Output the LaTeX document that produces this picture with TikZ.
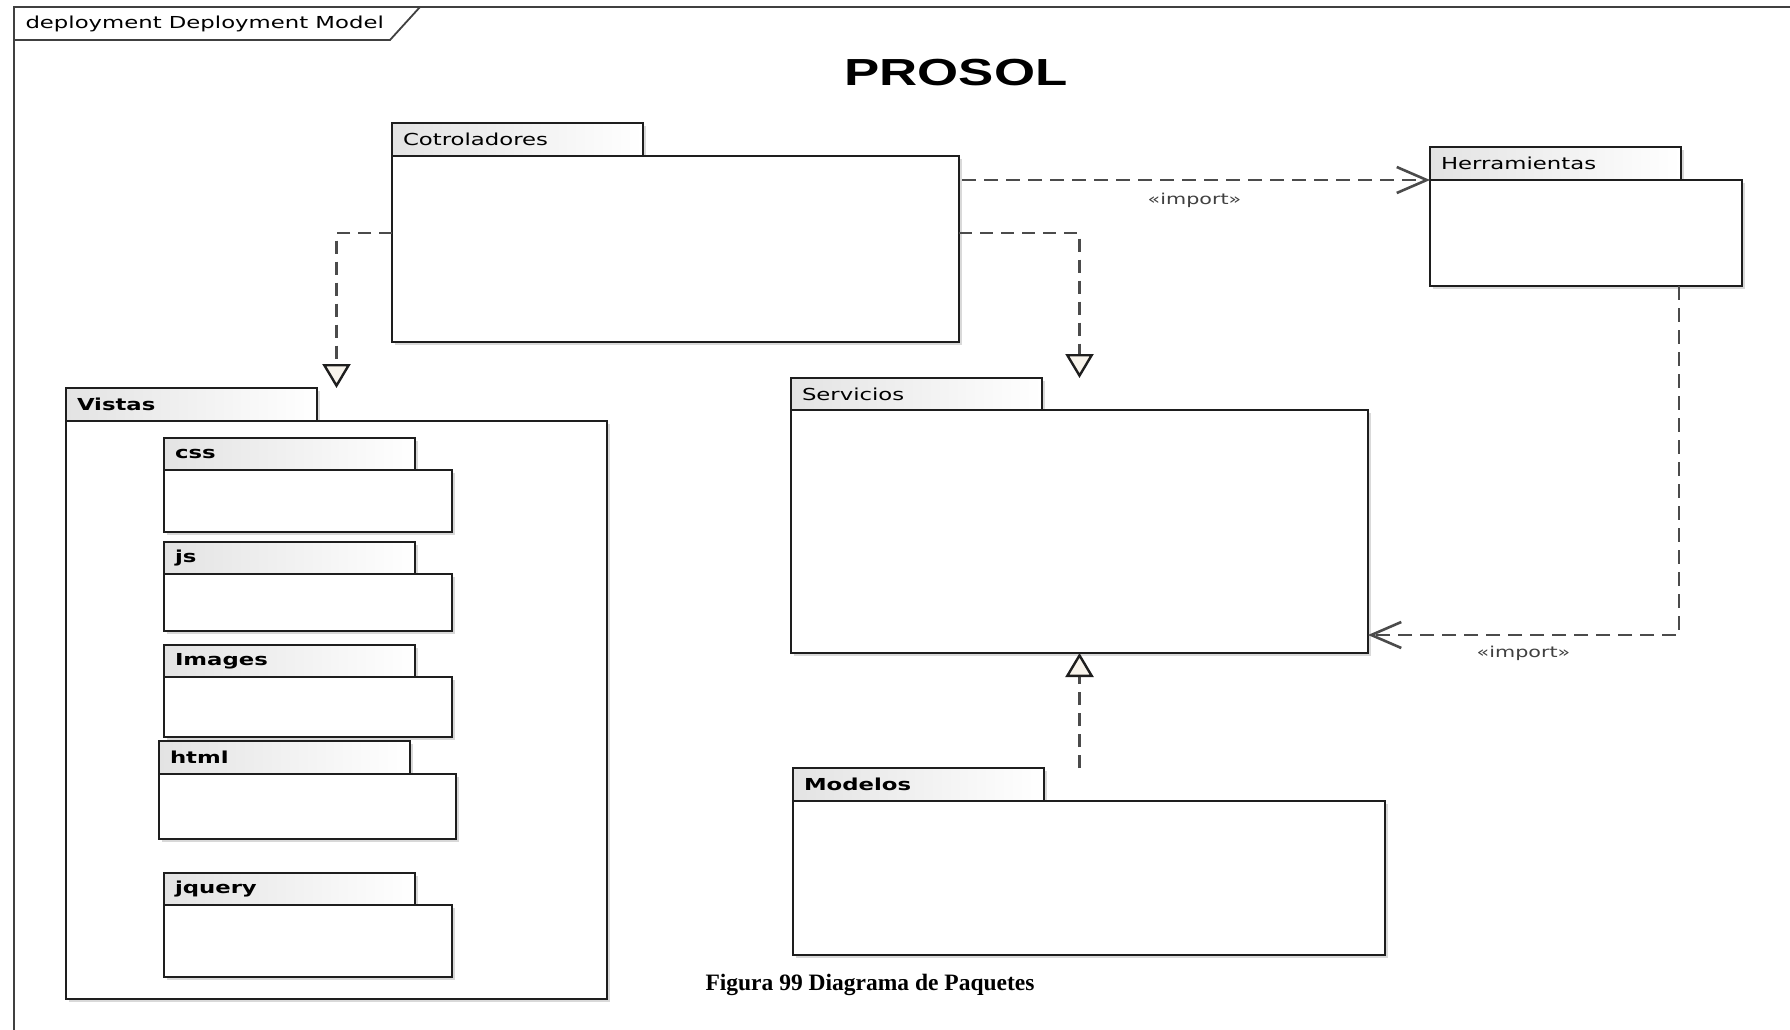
\documentclass[tikz,border=0pt]{standalone}
\usepackage{fontspec}
\setmainfont{Liberation Serif}
\newfontfamily\umlfont[FakeStretch=1.38]{DejaVu Sans}
\newfontfamily\bannerfont[FakeStretch=1.40]{Liberation Sans}
\usetikzlibrary{arrows.meta, positioning, shadows}
\definecolor{tipfill}{RGB}{248,244,236}
\definecolor{pkgline}{RGB}{30,30,30}
\definecolor{depline}{RGB}{75,75,75}
\tikzstyle{pkgtab} = [rectangle, draw=pkgline, line width=2.2pt, left color=black!11, right color=white, anchor=north west, outer sep=0pt, minimum width=251pt, minimum height=32pt, inner xsep=11pt, inner ysep=0pt, text width=229pt, align=left, font=\umlfont\fontsize{16.5}{19}\selectfont, drop shadow={shadow xshift=3pt, shadow yshift=-3pt, opacity=0.3}]
\tikzstyle{pkgbody} = [rectangle, draw=pkgline, line width=2.2pt, fill=white, outer sep=0pt, inner sep=0pt, drop shadow={shadow xshift=3pt, shadow yshift=-3pt, opacity=0.3}]
\tikzstyle{realize} = [depline, line width=2.4pt, dash pattern=on 13pt off 8pt, -{Triangle[length=24pt, width=28pt, fill=tipfill, color=pkgline]}]
\tikzstyle{importdep} = [depline, line width=2.6pt, dash pattern=on 14pt off 8pt, -{Straight Barb[length=30pt, width=26pt]}]
\tikzstyle{stereo} = [font=\umlfont\fontsize{15}{17}\selectfont, text=black!75]

\begin{document}
\begin{tikzpicture}[x=1pt, y=-1pt]
\useasboundingbox (0,0) rectangle (1790,1030);
%----------------------------------------------------------------------------
% Diagram frame and headings
\draw[line width=2.4pt, black!75] (14,1040) -- (14,7) -- (1800,7);
\draw[line width=1.8pt, black!75] (14,40) -- (390,40) -- (420,7);
\node[anchor=west, font=\umlfont\fontsize{16.5}{19}\selectfont] (frameName) at (22,24) {deployment Deployment Model};
\node[font=\bannerfont\bfseries\fontsize{37.7}{40}\selectfont] (banner) at (956,73) {PROSOL};

%----------------------------------------------------------------------------
% Packages
\node (ctrlTab) [pkgtab, minimum height=33pt] at (392,123) {Cotroladores};
\node (ctrlBody) [pkgbody, minimum width=567pt, minimum height=186pt, below right=0pt and 0pt of ctrlTab.south west] {};

\node (herrTab) [pkgtab, minimum height=33pt] at (1430,147) {Herramientas};
\node (herrBody) [pkgbody, minimum width=312pt, minimum height=106pt, below right=0pt and 0pt of herrTab.south west] {};

\node (vistTab) [pkgtab, minimum height=33pt] at (66,388) {\bfseries Vistas};
\node (vistBody) [pkgbody, minimum width=541pt, minimum height=578pt, below right=0pt and 0pt of vistTab.south west] {};

\node (cssTab) [pkgtab] at (164,438) {\bfseries css};
\node (cssBody) [pkgbody, minimum width=288pt, minimum height=62pt, below right=0pt and 0pt of cssTab.south west] {};
\node (jsTab) [pkgtab] at (164,542) {\bfseries js};
\node (jsBody) [pkgbody, minimum width=288pt, minimum height=57pt, below right=0pt and 0pt of jsTab.south west] {};
\node (imgTab) [pkgtab] at (164,645) {\bfseries Images};
\node (imgBody) [pkgbody, minimum width=288pt, minimum height=60pt, below right=0pt and 0pt of imgTab.south west] {};
\node (htmlTab) [pkgtab, minimum height=33pt] at (159,741) {\bfseries html};
\node (htmlBody) [pkgbody, minimum width=297pt, minimum height=65pt, below right=0pt and 0pt of htmlTab.south west] {};
\node (jqTab) [pkgtab] at (164,873) {\bfseries jquery};
\node (jqBody) [pkgbody, minimum width=288pt, minimum height=72pt, below right=0pt and 0pt of jqTab.south west] {};

\node (servTab) [pkgtab] at (791,378) {Servicios};
\node (servBody) [pkgbody, minimum width=577pt, minimum height=243pt, below right=0pt and 0pt of servTab.south west] {};

\node (modTab) [pkgtab, minimum height=33pt] at (793,768) {\bfseries Modelos};
\node (modBody) [pkgbody, minimum width=592pt, minimum height=154pt, below right=0pt and 0pt of modTab.south west] {};

%----------------------------------------------------------------------------
% Dependencies
\draw [importdep, shorten <=3pt] (ctrlBody.east |- herrBody.north west) -- (herrBody.north west)
  node [stereo, midway, below=8pt] {«import»};
\draw [importdep] ([xshift=-63pt]herrBody.south east) |- ([yshift=18pt]servBody.south east)
  node [stereo, pos=0.75, below=6pt] {«import»};
\draw [realize] ([yshift=16pt]ctrlBody.west) -| (vistBody.north |- vistTab.north);
\draw [realize] ([yshift=16pt]ctrlBody.east) -| (servBody.south |- servTab.north);
\draw [realize] (servBody.south |- modTab.north) -- (servBody.south);

%----------------------------------------------------------------------------
% Caption
\node (caption) [font=\bfseries\fontsize{23.5}{26}\selectfont] at (870,985) {Figura 99 Diagrama de Paquetes};
\end{tikzpicture}
\end{document}
